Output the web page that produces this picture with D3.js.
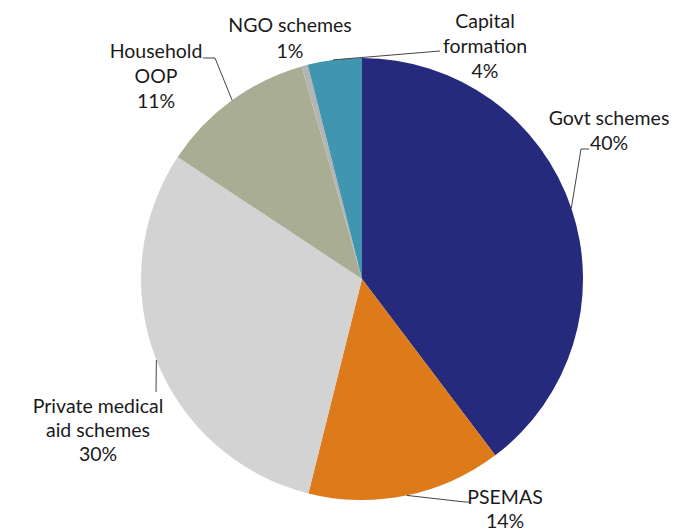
<!DOCTYPE html>
<html>
<head>
<meta charset="utf-8">
<script src="https://cdn.jsdelivr.net/npm/d3@7"></script>
<style>
  body { margin: 0; background: #fff; }
  text { font-family: Lato, "Open Sans", sans-serif; fill: #1a1a1a; }
</style>
</head>
<body>
<div id="chart-area"></div>
<script>
const categories = ['Govt schemes', 'PSEMAS', 'Private medical aid schemes', 'Household OOP', 'NGO schemes', 'Capital formation'];
const shares = [39.7, 14.2, 30.4, 11.3, 0.45, 3.95];
const shareLabels = ['40%', '14%', '30%', '11%', '1%', '4%'];
const colors = ['#252a7d', '#dd7b1b', '#d3d3d3', '#a9ad94', '#b4b4b4', '#4096b0'];

// label layout: text lines, centre x, first baseline y, leader (angle on rim, then points)
const labelLines = [
    ['Govt schemes', '40%'],
    ['PSEMAS', '14%'],
    ['Private medical', 'aid schemes', '30%'],
    ['Household', 'OOP', '11%'],
    ['NGO schemes', '1%'],
    ['Capital', 'formation', '4%']
];
const labelX = [609, 505, 98, 156, 290, 485];
const labelY = [125, 504, 413, 58, 32, 28];
const lineStep = [25, 24, 24, 25, 26, 25];
const leaders = [
    {angle: 71.3, pts: [[581, 149], [589, 149]]},
    {angle: 168.3, pts: [[465, 502], [469, 502]]},
    {angle: 248.5, pts: [[156, 392]]},
    {angle: 324, pts: [[215, 58], [203, 58]]},
    null,
    {angle: 352.5, pts: [[440, 51]]}
];

const width = 693, height = 529;
const cx = 362, cy = 279, radius = 221;

const svg = d3.select('#chart-area')
    .append('svg')
    .attr('width', width)
    .attr('height', height);

const g = svg.append('g')
    .attr('transform', `translate(${cx}, ${cy})`);

const data = categories.map((c, i) => ({name: c, value: shares[i], i: i}));

const pie = d3.pie()
    .sort(null)
    .value(d => d.value);

const arc = d3.arc()
    .innerRadius(0)
    .outerRadius(radius);

g.selectAll('path')
    .data(pie(data))
    .enter()
    .append('path')
        .attr('d', arc)
        .attr('fill', d => colors[d.data.i]);

// leader lines
leaders.forEach((l) => {
    if (!l) return;
    const a = l.angle * Math.PI / 180;
    const start = [cx + radius * Math.sin(a), cy - radius * Math.cos(a)];
    svg.append('polyline')
        .attr('points', [start].concat(l.pts).map(p => p.join(',')).join(' '))
        .attr('fill', 'none')
        .attr('stroke', '#444')
        .attr('stroke-width', 1);
});

// labels
labelLines.forEach((lines, i) => {
    const t = svg.append('text')
        .attr('text-anchor', 'middle')
        .attr('font-size', '19.5px');
    lines.forEach((s, k) => {
        t.append('tspan')
            .attr('x', labelX[i])
            .attr('y', labelY[i] + k * lineStep[i])
            .text(s);
    });
});
</script>
</body>
</html>
